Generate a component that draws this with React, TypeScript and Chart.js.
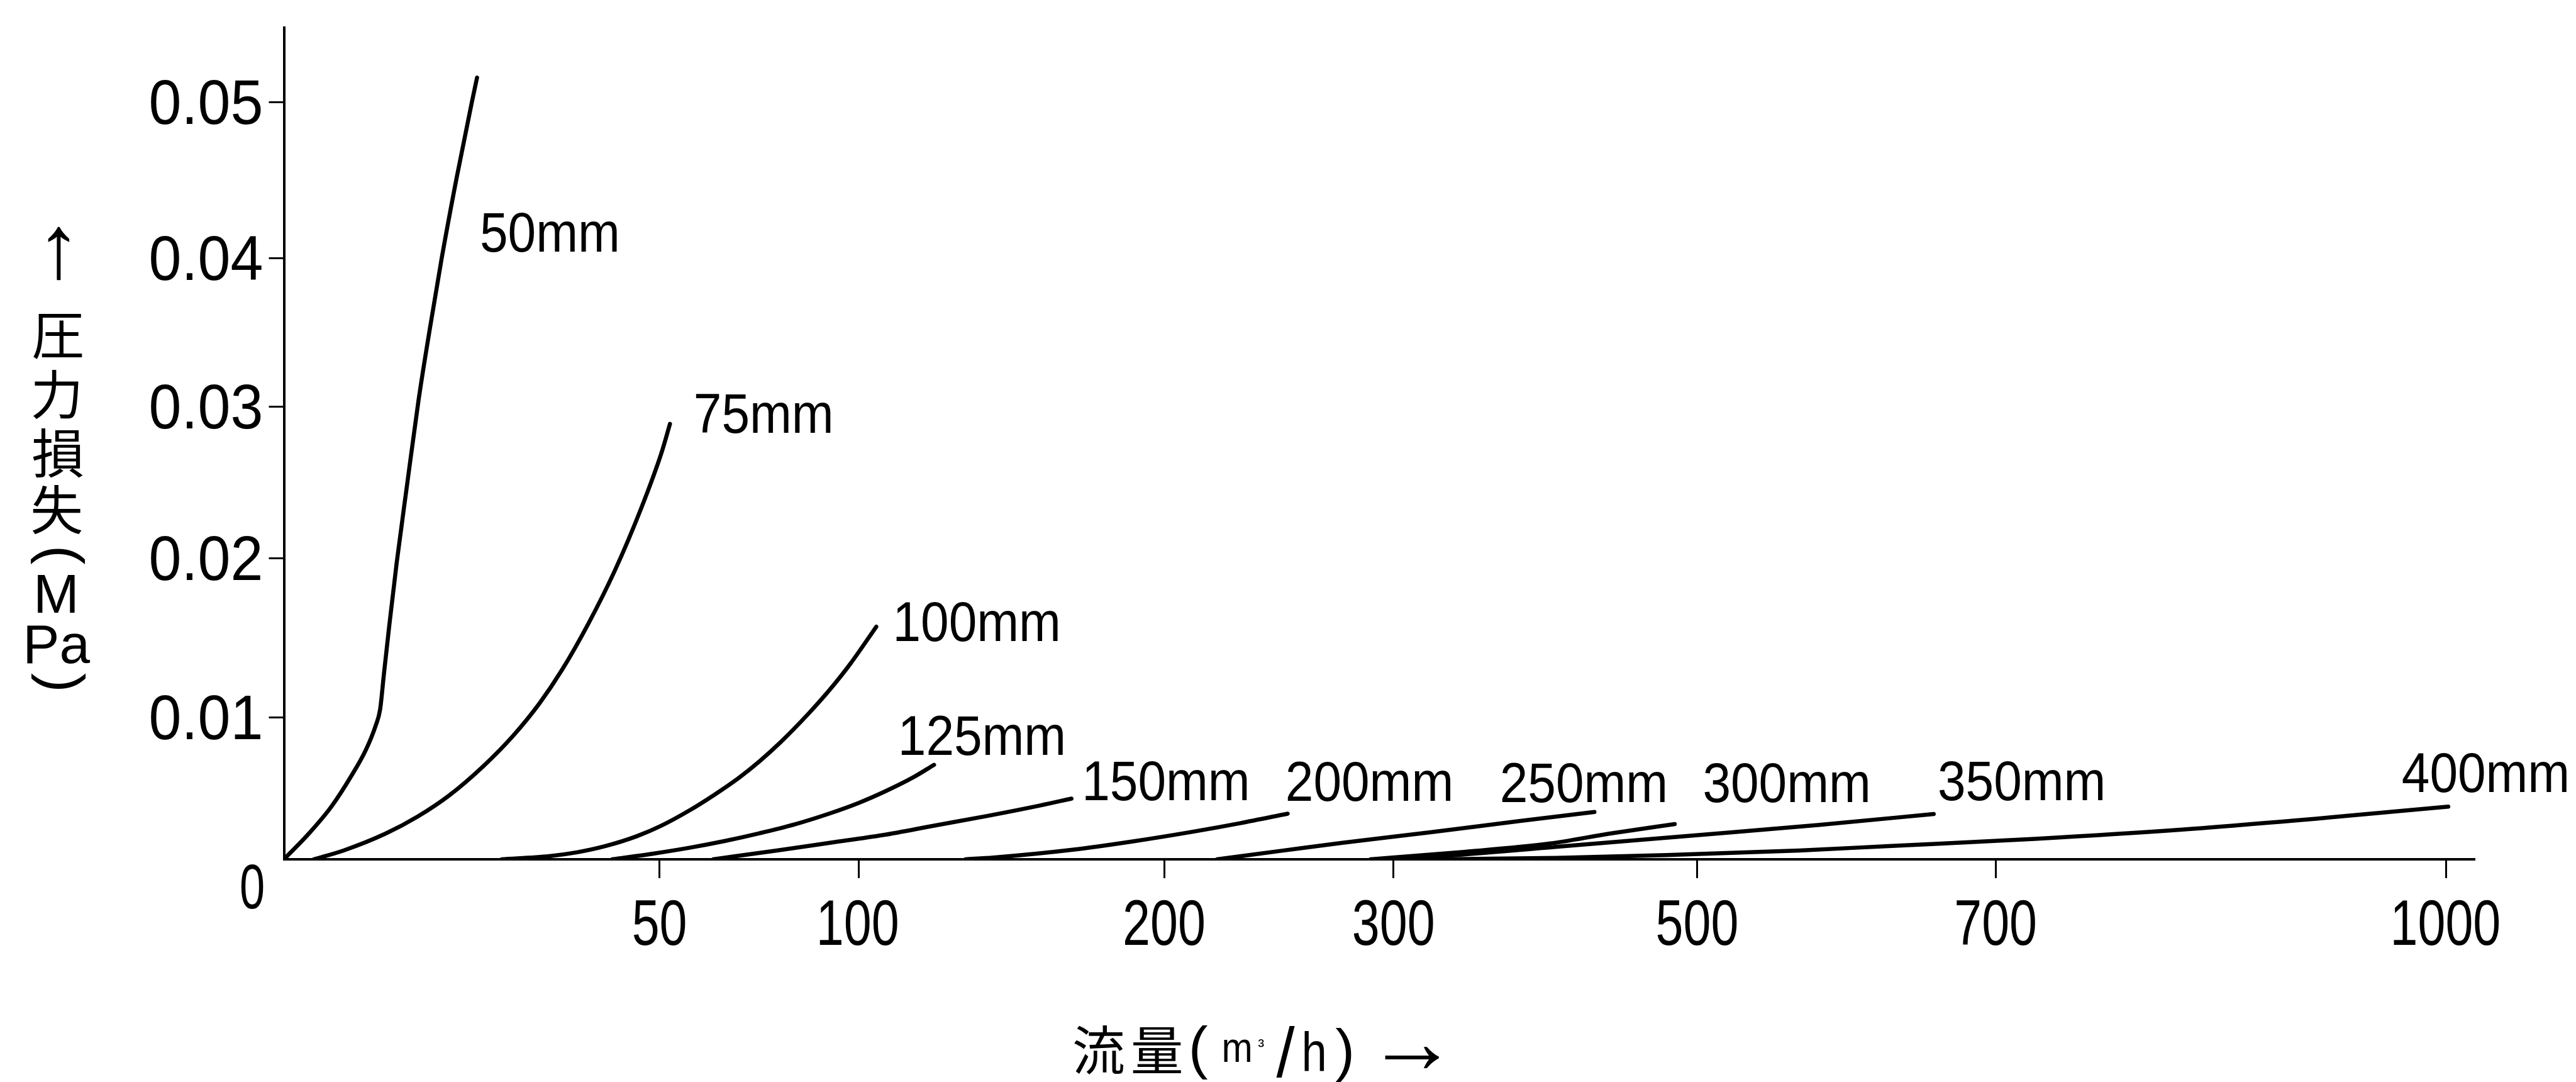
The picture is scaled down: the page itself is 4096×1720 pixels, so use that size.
import React, { useEffect, useRef } from 'react';
import { Chart, registerables, LinearScale } from 'chart.js';

Chart.register(...registerables);

// ---------------- data ----------------
const PIPE_SIZES = ['50mm', '75mm', '100mm', '125mm', '150mm', '200mm', '250mm', '300mm', '350mm', '400mm'];

const FLOW_TICKS = [50, 100, 200, 300, 500, 700, 1000];
const PRESSURE_TICKS = [0.01, 0.02, 0.03, 0.04, 0.05];

// hand-drawn (non-uniform) axis calibration: value -> fraction of axis length
const X_AXIS_VALUES = [0, 50, 100, 200, 300, 500, 700, 1000, 1019];
const X_AXIS_FRACTIONS = [0, 0.1715, 0.2623, 0.402, 0.5065, 0.6452, 0.7816, 0.9872, 1];
const Y_AXIS_VALUES = [0, 0.01, 0.02, 0.03, 0.04, 0.05, 0.05482];
const Y_AXIS_FRACTIONS = [0, 0.1707, 0.362, 0.5439, 0.7229, 0.9098, 1];

// flow (m3/h) and pressure loss (MPa) per pipe size
const FLOW_50 = [0, 3.3, 6.3, 9.0, 10.9, 12.2, 12.8, 13.3, 14.0, 15.0, 16.4, 17.9, 19.4, 21.0, 23.0, 25.0, 25.7];
const LOSS_50 = [0, 0.0018, 0.0037, 0.0059, 0.0077, 0.0094, 0.0105, 0.0127, 0.0157, 0.0197, 0.0249, 0.0304, 0.0352, 0.04, 0.0452, 0.05, 0.0516];

const FLOW_75 = [4, 8, 13.5, 17.8, 22, 26.5, 30.5, 34, 37, 40.5, 44, 47.5, 50.5, 52.6];
const LOSS_75 = [0, 0.00063, 0.0018, 0.00301, 0.0045, 0.00654, 0.0087, 0.01087, 0.01297, 0.01587, 0.01918, 0.02324, 0.02699, 0.02887];

const FLOW_100 = [29, 35.3, 39, 42.8, 47, 50.4, 57.5, 63.7, 69.9, 75.2, 80.4, 87.4, 92.7, 98, 105.8];
const LOSS_100 = [0, 0.00022, 0.00049, 0.00093, 0.00163, 0.00236, 0.00344, 0.00453, 0.00573, 0.00692, 0.00824, 0.01022, 0.01171, 0.01338, 0.01569];

const FLOW_125 = [43.7, 49.3, 57.5, 66.3, 75.1, 84.0, 92.8, 99.8, 108.6, 117.8, 124.7];
const LOSS_125 = [0, 0.00041, 0.00081, 0.00128, 0.00183, 0.00246, 0.00323, 0.00394, 0.00477, 0.00576, 0.00665];

const FLOW_150 = [63.5, 79.5, 92.8, 107.9, 125, 142.3, 159.4, 169.6];
const LOSS_150 = [0, 0.00062, 0.00116, 0.0017, 0.00238, 0.00306, 0.00379, 0.00427];

const FLOW_200 = [135, 144, 170, 189.7, 212, 233, 253.8];
const LOSS_200 = [0, 0.00012, 0.00067, 0.00126, 0.00193, 0.00254, 0.00321];

const FLOW_250 = [223, 251.2, 277.2, 324.4, 383.5, 432.3];
const LOSS_250 = [0, 0.0006, 0.00115, 0.0019, 0.0027, 0.00333];

const FLOW_300 = [290, 343.9, 402.5, 442, 485.2];
const LOSS_300 = [0, 0.0005, 0.0011, 0.0018, 0.00248];

const FLOW_350 = [300, 330, 406.6, 500.7, 580.8, 658.3];
const LOSS_350 = [0, 0.0002, 0.00087, 0.0017, 0.00241, 0.00319];

const FLOW_400 = [330, 407.5, 480, 568.6, 628, 726, 824, 921.8, 1001.3];
const LOSS_400 = [0, 0.0001, 0.0003, 0.00062, 0.00093, 0.00144, 0.00209, 0.00294, 0.00371];

const SERIES_FLOWS = [FLOW_50, FLOW_75, FLOW_100, FLOW_125, FLOW_150, FLOW_200, FLOW_250, FLOW_300, FLOW_350, FLOW_400];
const SERIES_LOSSES = [LOSS_50, LOSS_75, LOSS_100, LOSS_125, LOSS_150, LOSS_200, LOSS_250, LOSS_300, LOSS_350, LOSS_400];

// where each size label sits (data coordinates of the label's left edge / vertical centre)
const LABEL_FLOW = [26.3, 59.1, 112.3, 114.0, 174.1, 253.8, 371.5, 504.8, 662.1, 971];
const LABEL_LOSS = [0.04165, 0.02955, 0.01599, 0.00874, 0.00551, 0.00549, 0.00538, 0.00538, 0.00551, 0.00609];

// ---------------- layout ----------------
const W = 4096;
const H = 1720;
const S = W / 4690; // reference px -> output px

const LATIN = '"Liberation Sans", Arial, sans-serif';
const NARROW = '"Liberation Sans Narrow", "Liberation Sans", Arial, sans-serif';
const CJK = '"Noto Sans CJK JP", "Noto Sans CJK SC", sans-serif';

function interp(xs: number[], ys: number[], v: number) {
  let i = 1;
  while (i < xs.length - 1 && v > xs[i]) i++;
  const t = (v - xs[i - 1]) / (xs[i] - xs[i - 1]);
  return ys[i - 1] + t * (ys[i] - ys[i - 1]);
}

class PiecewiseScale extends LinearScale {
  static id = 'piecewise';
  static defaults = LinearScale.defaults;
  calib(): [number[], number[]] {
    return (this as any).axis === 'x' ? [X_AXIS_VALUES, X_AXIS_FRACTIONS] : [Y_AXIS_VALUES, Y_AXIS_FRACTIONS];
  }
  getPixelForValue(value: number) {
    const [v, f] = this.calib();
    return this.getPixelForDecimal(interp(v, f, value));
  }
  getValueForPixel(pixel: number) {
    const [v, f] = this.calib();
    return interp(f, v, this.getDecimalForPixel(pixel));
  }
}
Chart.register(PiecewiseScale as any);

// draw text so that its ink box is centred on (cx, cy) (output px)
function inkCentered(
  ctx: CanvasRenderingContext2D,
  text: string,
  font: string,
  cx: number,
  cy: number,
  sx = 1,
  sy = 1,
  rot = 0
) {
  ctx.font = font;
  const m = ctx.measureText(text);
  ctx.save();
  ctx.translate(cx, cy);
  if (rot) ctx.rotate(rot);
  ctx.scale(sx, sy);
  ctx.textAlign = 'left';
  ctx.textBaseline = 'alphabetic';
  ctx.fillText(
    text,
    -(m.actualBoundingBoxRight - m.actualBoundingBoxLeft) / 2,
    (m.actualBoundingBoxAscent - m.actualBoundingBoxDescent) / 2
  );
  ctx.restore();
}

type Piece = { text: string; family: string; size?: number; fitH?: number; fitW?: number; cx: number; cy: number; sx?: number; sy?: number; rot?: number };

function drawPiece(ctx: CanvasRenderingContext2D, p: Piece) {
  let size = (p.size ?? 100) * S;
  if (p.fitH || p.fitW) {
    ctx.font = `100px ${p.family}`;
    const m0 = ctx.measureText(p.text);
    if (p.fitH) size = (100 * p.fitH * S) / (m0.actualBoundingBoxAscent + m0.actualBoundingBoxDescent);
    else size = (100 * (p.fitW as number) * S) / (m0.actualBoundingBoxLeft + m0.actualBoundingBoxRight);
  }
  inkCentered(ctx, p.text, `${size}px ${p.family}`, p.cx * S, p.cy * S, p.sx ?? 1, p.sy ?? 1, p.rot ?? 0);
}

const Y_TITLE: Piece[] = [
  { text: '↑', family: LATIN, fitH: 98, cx: 107, cy: 462 },
  { text: '圧', family: CJK, size: 96, cx: 105, cy: 612.5 },
  { text: '力', family: CJK, size: 96, cx: 102, cy: 718.5 },
  { text: '損', family: CJK, size: 96, cx: 105.5, cy: 824 },
  { text: '失', family: CJK, size: 96, cx: 104, cy: 927 },
  { text: '(', family: LATIN, size: 106, cx: 105, cy: 1013, rot: Math.PI / 2 },
  { text: 'M', family: LATIN, size: 100, cx: 102.5, cy: 1081 },
  { text: 'Pa', family: LATIN, size: 100, cx: 107, cy: 1173 },
  { text: ')', family: LATIN, size: 106, cx: 106, cy: 1240, rot: Math.PI / 2 },
];

const X_TITLE: Piece[] = [
  { text: '流', family: CJK, size: 96, cx: 2001, cy: 1912 },
  { text: '量', family: CJK, size: 96, cx: 2106.5, cy: 1912 },
  { text: '(', family: LATIN, size: 106, cx: 2184.5, cy: 1916 },
  { text: 'm', family: LATIN, size: 77, cx: 2252.5, cy: 1912.5, sx: 0.88 },
  { text: '³', family: LATIN, size: 34, cx: 2296, cy: 1899 },
  { text: '/', family: LATIN, size: 100, cx: 2341, cy: 1915, sx: 1.2, sy: 1.28 },
  { text: 'h', family: LATIN, size: 100, cx: 2393, cy: 1913.5, sx: 0.83 },
  { text: ')', family: LATIN, size: 106, cx: 2446, cy: 1920 },
  { text: '→', family: LATIN, fitW: 99, cx: 2570.5, cy: 1925 },
];

const ORIGIN_LABEL: Piece = { text: '0', family: NARROW, size: 115, cx: 459, cy: 1614, sx: 0.72 };

const textPlugin = {
  id: 'chartTexts',
  afterDraw(chart: any) {
    const ctx: CanvasRenderingContext2D = chart.ctx;
    const xs = chart.scales.x;
    const ys = chart.scales.y;
    ctx.save();
    ctx.fillStyle = '#000';

    // x tick labels (condensed)
    const xFont = `${116 * S}px ${NARROW}`;
    xs.ticks.forEach((t: any) => {
      inkCentered(ctx, String(t.value), xFont, xs.getPixelForValue(t.value), 1679 * S, 0.78);
    });

    // y tick labels, right aligned
    const yFont = `${115 * S}px ${NARROW}`;
    ctx.font = yFont;
    ys.ticks.forEach((t: any) => {
      const label = Number(t.value).toFixed(2);
      const py = ys.getPixelForValue(t.value);
      const m = ctx.measureText(label);
      ctx.save();
      ctx.translate(479 * S, py);
      ctx.scale(0.93, 1);
      ctx.textAlign = 'right';
      ctx.textBaseline = 'alphabetic';
      ctx.fillText(label, 0, (m.actualBoundingBoxAscent - m.actualBoundingBoxDescent) / 2);
      ctx.restore();
    });

    // curve labels
    ctx.font = `${102 * S}px ${LATIN}`;
    ctx.textAlign = 'left';
    ctx.textBaseline = 'alphabetic';
    PIPE_SIZES.forEach((name, i) => {
      const px = xs.getPixelForValue(LABEL_FLOW[i]);
      const py = ys.getPixelForValue(LABEL_LOSS[i]);
      const m = ctx.measureText(name);
      ctx.save();
      ctx.translate(px, py);
      ctx.scale(0.9, 1);
      ctx.fillText(name, m.actualBoundingBoxLeft, (m.actualBoundingBoxAscent - m.actualBoundingBoxDescent) / 2);
      ctx.restore();
    });

    Y_TITLE.forEach((p) => drawPiece(ctx, p));
    X_TITLE.forEach((p) => drawPiece(ctx, p));
    drawPiece(ctx, ORIGIN_LABEL);
    ctx.restore();
  },
};

export default function App() {
  const ref = useRef<HTMLCanvasElement | null>(null);

  useEffect(() => {
    document.body.style.margin = '0';
    document.body.style.overflow = 'hidden';
    document.body.style.background = '#fff';
    const canvas = ref.current;
    if (!canvas) return;

    const datasets = PIPE_SIZES.map((name, i) => ({
      label: name,
      data: SERIES_FLOWS[i].map((f, j) => ({ x: f, y: SERIES_LOSSES[i][j] })),
      borderColor: '#000',
      backgroundColor: '#000',
      borderWidth: 6.5,
      pointRadius: 0,
      fill: false,
      cubicInterpolationMode: 'monotone' as const,
      borderCapStyle: 'round' as const,
      borderJoinStyle: 'round' as const,
    }));

    const chart = new Chart(canvas, {
      type: 'line',
      data: { datasets },
      plugins: [textPlugin],
      options: {
        responsive: false,
        animation: false,
        devicePixelRatio: 1,
        layout: { padding: { left: 0, top: 50 * S, right: W - 4505 * S, bottom: 0 } },
        plugins: {
          legend: { display: false },
          tooltip: { enabled: false },
          title: { display: false },
        },
        scales: {
          x: {
            type: 'piecewise' as any,
            min: 0,
            max: 1019,
            bounds: 'data',
            afterBuildTicks: (s: any) => {
              s.ticks = FLOW_TICKS.map((v) => ({ value: v }));
            },
            afterFit: (s: any) => {
              s.height = H - 1564 * S;
            },
            grid: { drawOnChartArea: false, drawTicks: true, tickLength: 30, color: '#000', lineWidth: 3 },
            border: { display: true, color: '#000', width: 4 },
            ticks: { display: false, autoSkip: false },
          } as any,
          y: {
            type: 'piecewise' as any,
            min: 0,
            max: 0.05482,
            bounds: 'data',
            afterBuildTicks: (s: any) => {
              s.ticks = PRESSURE_TICKS.map((v) => ({ value: v }));
            },
            afterFit: (s: any) => {
              s.width = 517 * S;
            },
            grid: { drawOnChartArea: false, drawTicks: true, tickLength: 24, color: '#000', lineWidth: 3 },
            border: { display: true, color: '#000', width: 4 },
            ticks: { display: false, autoSkip: false },
          } as any,
        },
      } as any,
    });

    return () => chart.destroy();
  }, []);

  return (
    <div style={{ width: W, height: H, background: '#fff' }}>
      <canvas ref={ref} width={W} height={H} style={{ display: 'block', width: W, height: H }} />
    </div>
  );
}
